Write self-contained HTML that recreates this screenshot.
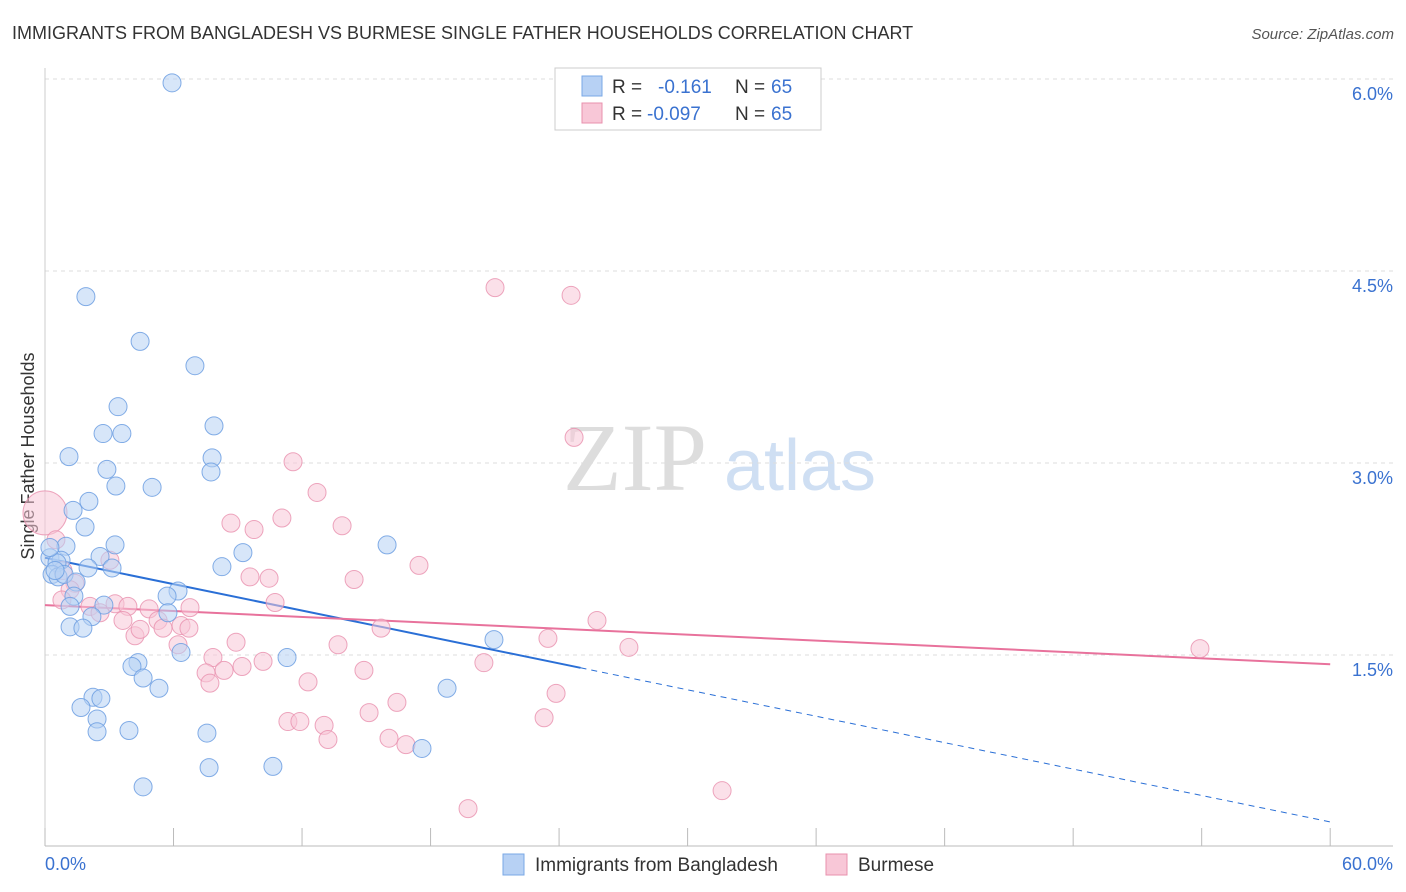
<!DOCTYPE html>
<html><head><meta charset="utf-8">
<style>
body{margin:0;background:#fff;font-family:"Liberation Sans",sans-serif;}
svg{display:block}
</style></head>
<body>
<svg id="chart" width="1406" height="892" xmlns="http://www.w3.org/2000/svg">
<text x="12" y="39" font-size="18" fill="#333">IMMIGRANTS FROM BANGLADESH VS BURMESE SINGLE FATHER HOUSEHOLDS CORRELATION CHART</text>
<text x="1394" y="39" font-size="15" fill="#555" font-style="italic" text-anchor="end">Source: ZipAtlas.com</text>
<text x="34" y="456" font-size="18" fill="#333" transform="rotate(-90 34 456)" text-anchor="middle">Single Father Households</text>
<g>
<text x="635" y="490" font-size="96" font-family="Liberation Serif,serif" fill="#ddd" text-anchor="middle">ZIP</text>
<text x="800" y="490" font-size="72" fill="#cfdff3" text-anchor="middle">atlas</text>
</g>
<g id="grid"></g><g id="axes"></g><g id="lines"></g><g id="pts"></g>
<g>
<rect x="555" y="68" width="266" height="62" fill="#fff" stroke="#ccc"/>
<rect x="582" y="76" width="20" height="20" fill="#b7d1f4" stroke="#7aa8e6"/>
<rect x="582" y="103" width="20" height="20" fill="#f8c7d7" stroke="#e890ae"/>
<text x="612" y="93" font-size="19" fill="#333">R = </text><text x="658" y="93" font-size="19" fill="#3a72d0">-0.161</text>
<text x="735" y="93" font-size="19" fill="#333">N = </text><text x="771" y="93" font-size="19" fill="#3a72d0">65</text>
<text x="612" y="120" font-size="19" fill="#333">R = </text><text x="647" y="120" font-size="19" fill="#3a72d0">-0.097</text>
<text x="735" y="120" font-size="19" fill="#333">N = </text><text x="771" y="120" font-size="19" fill="#3a72d0">65</text>
</g>
<g>
<rect x="503" y="854" width="21" height="21" fill="#b7d1f4" stroke="#7aa8e6"/>
<text x="535" y="871" font-size="19" fill="#333">Immigrants from Bangladesh</text>
<rect x="826" y="854" width="21" height="21" fill="#f8c7d7" stroke="#e890ae"/>
<text x="858" y="871" font-size="19" fill="#333">Burmese</text>
</g>
</svg>
<script>
const xTicks=[0,6,12,18,24,30,36,42,48,54,60];
const yTicks=[1.5,3.0,4.5,6.0];
const yTickLabels=["1.5%","3.0%","4.5%","6.0%"];
const xEndLabels=["0.0%","60.0%"];
const bangX=[5.93,1.91,4.44,7.00,3.41,2.71,3.59,7.89,1.12,7.80,2.89,7.75,3.31,5.00,2.05,1.31,1.87,3.27,0.98,9.24,15.97,0.23,0.75,2.57,0.56,2.01,3.13,8.26,0.33,0.61,0.89,1.45,6.21,5.70,1.35,1.17,2.75,2.19,5.74,1.17,1.77,20.96,6.35,11.30,4.34,4.06,4.58,5.32,18.77,2.24,2.61,1.68,2.43,2.43,3.92,7.56,17.60,7.66,10.64,4.58,0.23,0.47];
const bangY=[5.97,4.30,3.95,3.76,3.44,3.23,3.23,3.29,3.05,3.04,2.95,2.93,2.82,2.81,2.70,2.63,2.50,2.36,2.35,2.30,2.36,2.26,2.24,2.27,2.22,2.18,2.18,2.19,2.13,2.11,2.13,2.07,2.00,1.96,1.96,1.88,1.89,1.80,1.83,1.72,1.71,1.62,1.52,1.48,1.44,1.41,1.32,1.24,1.24,1.17,1.16,1.09,1.00,0.90,0.91,0.89,0.77,0.62,0.63,0.47,2.34,2.16];
const burX=[0,0.51,0.84,1.40,3.03,21.01,24.56,24.70,11.58,12.70,8.68,9.76,11.06,13.87,17.46,9.57,10.46,14.43,2.10,2.57,3.27,3.87,3.64,4.86,5.28,5.51,6.77,10.74,6.35,6.72,4.20,4.44,6.21,8.92,15.69,23.48,25.77,27.26,53.92,7.84,10.18,7.52,8.36,9.20,13.68,14.89,20.49,12.28,23.86,16.43,15.13,11.34,11.90,13.03,13.21,16.06,16.85,23.30,31.61,19.75,7.70,1.17,0.79];
const burY=[2.61,2.40,2.16,2.06,2.24,4.37,4.31,3.20,3.01,2.77,2.53,2.48,2.57,2.51,2.20,2.11,2.10,2.09,1.88,1.83,1.90,1.88,1.77,1.86,1.77,1.71,1.87,1.91,1.73,1.71,1.65,1.70,1.58,1.60,1.71,1.63,1.77,1.56,1.55,1.48,1.45,1.36,1.38,1.41,1.58,1.38,1.44,1.29,1.20,1.13,1.05,0.98,0.98,0.95,0.84,0.85,0.80,1.01,0.44,0.30,1.28,2.01,1.93];
const burR=[22];
const bangTrend=[2.26,-0.0344];
const burTrend=[1.89,-0.0077];
const bangSolidEnd=25;
const NS="http://www.w3.org/2000/svg";
const X=v=>45+v*21.42, Y=v=>847-v*128;
function mk(t,a,p){const e=document.createElementNS(NS,t);for(const k in a)e.setAttribute(k,a[k]);p.appendChild(e);return e;}
const grid=document.getElementById('grid'),axes=document.getElementById('axes'),lines=document.getElementById('lines'),pts=document.getElementById('pts');
yTicks.forEach((t,i)=>{
 const l=mk('line',{x1:45,x2:1393,y1:Y(t),y2:Y(t),stroke:'#ddd','stroke-dasharray':'4,4'},grid);
 
 
 const tx=mk('text',{x:1393,y:Y(t)+21,'font-size':18,fill:'#3a72d0','text-anchor':'end'},axes);
 tx.textContent=yTickLabels[i];
 
 
});
const ax=mk('line',{x1:45,x2:1393,y1:846,y2:846,stroke:'#bbb'},axes);


const ay=mk('line',{x1:45,x2:45,y1:68,y2:846,stroke:'#ccc'},axes);


xTicks.forEach(t=>{
 const l=mk('line',{x1:X(t),x2:X(t),y1:828,y2:846,stroke:'#bbb'},axes);
 
 
});
[[0,'start',45],[60,'end',1393]].forEach((d,i)=>{
 const tx=mk('text',{x:d[2],y:870,'font-size':18,fill:'#3a72d0','text-anchor':d[1]},axes);
 tx.textContent=xEndLabels[i];
 
 
});
burX.forEach((x,i)=>{
 const c=mk('circle',{cx:X(x),cy:Y(burY[i]),r:i===0?burR[0]:9,fill:'#f8c7d7','fill-opacity':0.55,stroke:'#e890ae','stroke-opacity':0.8},pts);
 
 
});
bangX.forEach((x,i)=>{
 const c=mk('circle',{cx:X(x),cy:Y(bangY[i]),r:9,fill:'#b7d1f4','fill-opacity':0.55,stroke:'#6d9fe2','stroke-opacity':0.85},pts);
 
 
});
const f=(tr,x)=>tr[0]+tr[1]*x;
const bl=mk('line',{x1:X(0),y1:Y(f(bangTrend,0)),x2:X(bangSolidEnd),y2:Y(f(bangTrend,bangSolidEnd)),stroke:'#2a6fd6','stroke-width':2},lines);


const bd=mk('line',{x1:X(bangSolidEnd),y1:Y(f(bangTrend,bangSolidEnd)),x2:X(60),y2:Y(f(bangTrend,60)),stroke:'#2a6fd6','stroke-width':1,'stroke-dasharray':'6,5'},lines);


const pl=mk('line',{x1:X(0),y1:Y(f(burTrend,0)),x2:X(60),y2:Y(f(burTrend,60)),stroke:'#e8729c','stroke-width':2},lines);


</script>
</body></html>
